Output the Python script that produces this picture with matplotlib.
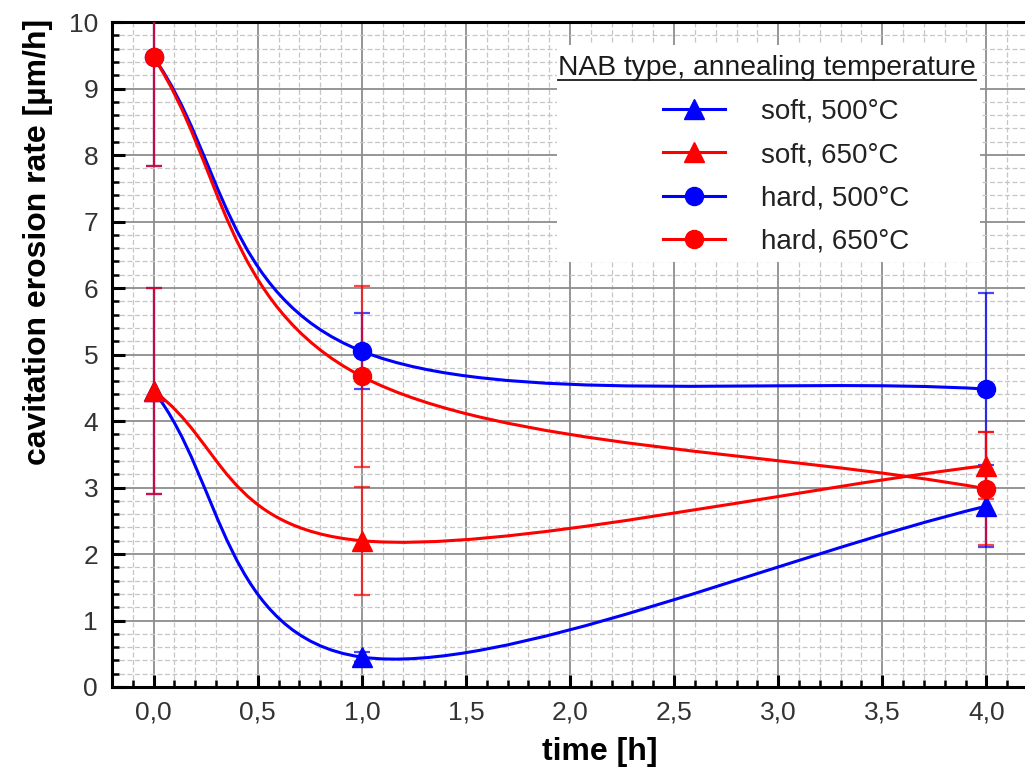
import numpy as np
import matplotlib
matplotlib.use("Agg")
import matplotlib.pyplot as plt
from matplotlib.path import Path
from matplotlib.patches import PathPatch, Rectangle
from matplotlib.lines import Line2D
from matplotlib.ticker import MultipleLocator, FuncFormatter

plt.rcParams['font.family'] = ['Liberation Sans', 'DejaVu Sans']

# ---- data -------------------------------------------------------------
time_h = [0.0, 1.0, 4.0]

soft_500 = [4.45, 0.45, 2.72]
soft_500_err = [1.55, 0.08, 0.62]
soft_650 = [4.45, 2.20, 3.33]
soft_650_err = [1.55, 0.81, 0.50]
hard_500 = [9.47, 5.05, 4.48]
hard_500_err = [1.63, 0.57, 1.44]
hard_650 = [9.47, 4.67, 2.98]
hard_650_err = [1.63, 1.36, 0.85]

series_labels = ['soft, 500°C', 'soft, 650°C', 'hard, 500°C', 'hard, 650°C']
legend_title = 'NAB type, annealing temperature'
x_label = 'time [h]'
y_label = 'cavitation erosion rate [µm/h]'

BLUE = '#0000ff'
RED = '#ff0000'


def smooth_path(x, y):
    """Piecewise cubic Bezier through the points (Catmull-Rom style tangents)."""
    P = np.column_stack([x, y]).astype(float)
    n = len(P)
    verts = [P[0]]
    codes = [Path.MOVETO]
    for i in range(n - 1):
        if i == 0:
            c1 = P[0] + (P[1] - P[0]) / 3.0
        else:
            c1 = P[i] + (P[i + 1] - P[i - 1]) / 6.0
        if i + 1 == n - 1:
            c2 = P[n - 1] - (P[n - 1] - P[n - 2]) / 3.0
        else:
            c2 = P[i + 1] - (P[i + 2] - P[i]) / 6.0
        verts += [c1, c2, P[i + 1]]
        codes += [Path.CURVE4] * 3
    return Path(verts, codes)


W, H = 1025, 772
fig = plt.figure(figsize=(W / 100, H / 100), dpi=100)
ax_left, ax_right, ax_top, ax_bottom = 112, 1028, 22, 687
ax = fig.add_axes([ax_left / W, 1 - ax_bottom / H,
                   (ax_right - ax_left) / W, (ax_bottom - ax_top) / H])

ax.set_xlim(-0.2, 4.2)
ax.set_ylim(0, 10)
ax.set_axisbelow(True)

ax.xaxis.set_major_locator(MultipleLocator(0.5))
ax.xaxis.set_minor_locator(MultipleLocator(0.1))
ax.yaxis.set_major_locator(MultipleLocator(1))
ax.yaxis.set_minor_locator(MultipleLocator(0.2))
ax.xaxis.set_major_formatter(FuncFormatter(lambda v, _: f'{v:.1f}'.replace('.', ',')))
ax.yaxis.set_major_formatter(FuncFormatter(lambda v, _: f'{v:.0f}'))

ax.grid(which='major', color='#8e8e8e', linewidth=1.3, linestyle='-')
ax.grid(which='minor', color='#c6c6c6', linewidth=0.9, linestyle=(0, (4, 2)))

ax.tick_params(which='major', direction='in', length=9, width=2.2,
               labelsize=19, labelcolor='#333333', pad=10)
ax.tick_params(which='minor', direction='in', length=5, width=1.8)
ax.tick_params(axis='x', which='both', top=False)
ax.tick_params(axis='y', which='both', right=False)

for side in ('left', 'bottom', 'top'):
    ax.spines[side].set_linewidth(2.2)
    ax.spines[side].set_color('black')
ax.spines['right'].set_visible(False)

series = [
    (soft_500, soft_500_err, BLUE, '^', 14),
    (hard_500, hard_500_err, BLUE, 'o', 13),
    (soft_650, soft_650_err, RED, '^', 14),
    (hard_650, hard_650_err, RED, 'o', 13),
]

for vals, errs, col, mk, ms in series:
    ax.errorbar(time_h, vals, yerr=errs, fmt='none', ecolor=col,
                elinewidth=1.6, capsize=6, capthick=1.6, alpha=0.72, zorder=3)

for vals, errs, col, mk, ms in series:
    ax.add_patch(PathPatch(smooth_path(time_h, vals), fill=False,
                           edgecolor=col, linewidth=2.2, zorder=4))

for vals, errs, col, mk, ms in series:
    ax.plot(time_h, vals, linestyle='none', marker=mk, markersize=ms,
            color=col, zorder=5, clip_on=False)

# legend background
box_l, box_r, box_t, box_b = 557, 980, 45, 262
ax.add_patch(Rectangle((box_l / W, 1 - box_b / H), (box_r - box_l) / W,
                       (box_b - box_t) / H, transform=fig.transFigure,
                       facecolor='white', edgecolor='none', zorder=6,
                       clip_on=False))

handles = [
    Line2D([], [], color=BLUE, marker='^', markersize=14, linewidth=2.2),
    Line2D([], [], color=RED, marker='^', markersize=14, linewidth=2.2),
    Line2D([], [], color=BLUE, marker='o', markersize=13, linewidth=2.2),
    Line2D([], [], color=RED, marker='o', markersize=13, linewidth=2.2),
]
leg = ax.legend(handles, series_labels, loc='upper left',
                bbox_to_anchor=(663 / W, 1 - 99 / H),
                bbox_transform=fig.transFigure, frameon=False,
                fontsize=20, handlelength=2.23, handletextpad=1.3,
                labelspacing=0.62, borderpad=0, borderaxespad=0)
leg.set_zorder(7)
for t in leg.get_texts():
    t.set_color('#222222')

title = fig.text(558 / W, 1 - 75 / H, legend_title, fontsize=20.3,
                 color='#1a1a1a', ha='left', va='baseline', zorder=8)
fig.canvas.draw()
bb = title.get_window_extent()
fig.add_artist(Line2D([bb.x0 / W, bb.x1 / W], [1 - 80 / H, 1 - 80 / H],
                      transform=fig.transFigure, color='#1a1a1a',
                      linewidth=1.3, zorder=8))

fig.text(600 / W, 1 - 752 / H, x_label, fontsize=23, fontweight='bold',
         ha='center', va='center')
fig.text(38 / W, 1 - 242 / H, y_label, fontsize=23, fontweight='bold',
         ha='center', va='center', rotation=90)

fig.savefig('out.png', dpi=100)
